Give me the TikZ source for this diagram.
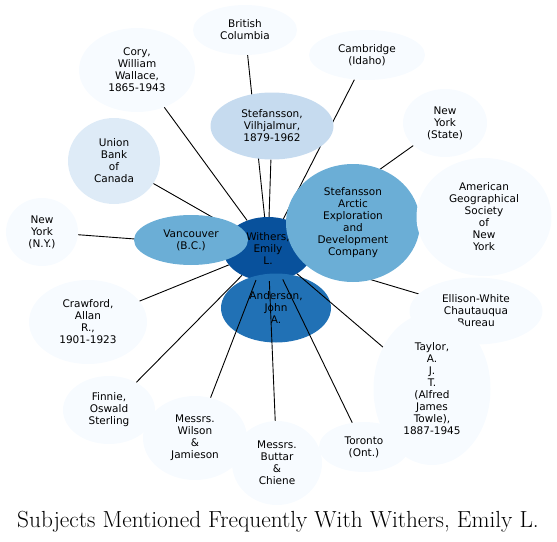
\documentclass[tikz,border=0pt]{standalone}
\usepackage{fontspec}
\newfontfamily\subjfont{DejaVu Sans}
\usetikzlibrary{shapes.geometric}
\definecolor{blues1}{HTML}{F7FBFF}
\definecolor{blues2}{HTML}{DEEBF7}
\definecolor{blues3}{HTML}{C6DBEF}
\definecolor{blues5}{HTML}{6BAED6}
\definecolor{blues7}{HTML}{2171B5}
\definecolor{blues8}{HTML}{08519C}
\pgfdeclarelayer{back}
\pgfdeclarelayer{mid}
\pgfsetlayers{back,mid,main}
\tikzset{
  subject/.style={ellipse, inner sep=0pt, align=center, fill=blues1,
    font=\subjfont\fontsize{10.5}{12}\selectfont},
  link/.style={line width=0.9pt}
}
\begin{document}
\begin{tikzpicture}[x=1pt, y=-1pt]
    \useasboundingbox (0,0) rectangle (557,541);
    \begin{pgfonlayer}{back}
    \node[subject, fill=blues8, minimum width=90pt, minimum height=64pt] (withers) at (268,249) {Withers,\\Emily\\L.};
    \node[subject, fill=blues7, minimum width=110pt, minimum height=69pt] (anderson) at (276,308) {Anderson,\\John\\A.};
    \end{pgfonlayer}
    \node[subject, fill=blues5, minimum width=114pt, minimum height=50pt] (vancouver) at (191,240) {Vancouver\\(B.C.)};
    \node[subject, fill=blues5, minimum width=134pt, minimum height=118pt] (arctic) at (353,223) {Stefansson\\Arctic\\Exploration\\and\\Development\\Company};
    \node[subject, fill=blues3, minimum width=123pt, minimum height=67pt] (stefv) at (272,126) {Stefansson,\\Vilhjalmur,\\1879-1962};
    \node[subject, fill=blues2, minimum width=92pt, minimum height=86pt] (union) at (114,161) {Union\\Bank\\of\\Canada};
    \node[subject, minimum width=104pt, minimum height=50pt] (bc) at (245,30) {British\\Columbia};
    \node[subject, minimum width=116pt, minimum height=84pt] (cory) at (137,70) {Cory,\\William\\Wallace,\\1865-1943};
    \node[subject, minimum width=116pt, minimum height=50pt] (cambridge) at (367,55) {Cambridge\\(Idaho)};
    \node[subject, minimum width=84pt, minimum height=68pt] (nystate) at (445,123) {New\\York\\(State)};
    \node[subject, minimum width=135pt, minimum height=118pt] (geo) at (484,217) {American\\Geographical\\Society\\of\\New\\York};
    \node[subject, minimum width=72pt, minimum height=68pt] (nyny) at (42,232) {New\\York\\(N.Y.)};
    \node[subject, minimum width=118pt, minimum height=84pt] (crawford) at (88,322) {Crawford,\\Allan\\R.,\\1901-1923};
    \node[subject, minimum width=92pt, minimum height=68pt] (finnie) at (109,410) {Finnie,\\Oswald\\Sterling};
    \node[subject, minimum width=104pt, minimum height=84pt] (wilson) at (195,438) {Messrs.\\Wilson\\\&\\Jamieson};
    \node[subject, minimum width=90pt, minimum height=84pt] (buttar) at (277,463) {Messrs.\\Buttar\\\&\\Chiene};
    \node[subject, minimum width=90pt, minimum height=50pt] (toronto) at (364,447) {Toronto\\(Ont.)};
    \node[subject, minimum width=133pt, minimum height=67pt] (ellison) at (476,311) {Ellison-White\\Chautauqua\\Bureau};
    \node[subject, minimum width=117pt, minimum height=152pt] (taylor) at (432,389) {Taylor,\\A.\\J.\\T.\\(Alfred\\James\\Towle),\\1887-1945};
    \begin{pgfonlayer}{mid}
    \foreach \n in {bc,stefv,cory,cambridge,union,nystate,nyny,crawford,finnie,wilson,buttar,toronto,taylor,ellison}
        \draw[link] (withers) -- (\n);
    \end{pgfonlayer}
    \node[anchor=base, font=\fontsize{23.3}{28}\selectfont] (title) at (278,527) {Subjects Mentioned Frequently With Withers, Emily L.};
\end{tikzpicture}
\end{document}
